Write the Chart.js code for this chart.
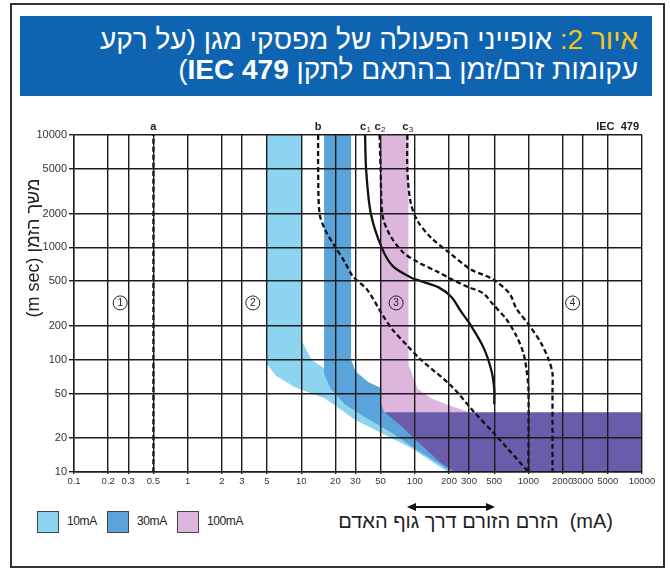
<!DOCTYPE html>
<html lang="he">
<head>
<meta charset="utf-8">
<title>IEC 479</title>
<script src="https://cdn.jsdelivr.net/npm/chart.js@4.4.1/dist/chart.umd.min.js"></script>
<style>
  html, body { margin: 0; padding: 0; background: #fff; }
  body { width: 670px; height: 572px; position: relative; overflow: hidden; font-family: "Liberation Sans", Arial, sans-serif; }
  #frame { position: absolute; left: 10px; top: 3px; width: 651px; height: 561px; border: 2px solid #333; }
  #titleBox { position: absolute; left: 20px; top: 16px; width: 632px; height: 80px; background: #0f64b2; color: #fff;
              direction: rtl; text-align: right; box-sizing: border-box; padding: 9px 14px 0 0; font-size: 28px; line-height: 30px; }
  #titleBox .fig { color: #f7c41f; }
  #titleBox b { font-weight: bold; }
  #chartWrap { position: absolute; left: 0; top: 110px; width: 670px; height: 380px; }
  #yTitle { position: absolute; left: 33px; top: 248px; transform: translate(-50%, -50%) rotate(-90deg); white-space: nowrap; font-size: 18px; color: #222; }
  .sw { position: absolute; top: 511px; width: 20px; height: 20px; border: 1px solid #444; }
  .lg { position: absolute; top: 514px; font-size: 12px; color: #222; letter-spacing: -0.4px; }
  #arrow { position: absolute; left: 405px; top: 499px; }
  #xTitle { position: absolute; right: 57px; top: 510px; font-size: 20px; color: #222; white-space: nowrap; }
</style>
</head>
<body>
<div id="frame"></div>
<div id="titleBox">
  <div><span class="fig">איור 2:</span> אופייני הפעולה של מפסקי מגן (על רקע</div>
  <div>עקומות זרם/זמן בהתאם לתקן <b>IEC 479</b>)</div>
</div>
<div id="chartWrap"><canvas id="myChart" width="670" height="380"></canvas></div>
<div id="yTitle">(m sec) משך הזמן</div>

<span class="sw" style="left:37px; background:#8cd4ef;"></span><span class="lg" style="left:67px;">10mA</span>
<span class="sw" style="left:107px; background:#5aa3db;"></span><span class="lg" style="left:137px;">30mA</span>
<span class="sw" style="left:177px; background:#dcb6dc;"></span><span class="lg" style="left:207px;">100mA</span>

<svg id="arrow" width="92" height="16">
  <line x1="9" y1="8" x2="83" y2="8" stroke="#111" stroke-width="2"/>
  <polygon points="2,8 11,4 11,12" fill="#111"/>
  <polygon points="90,8 81,4 81,12" fill="#111"/>
</svg>
<div id="xTitle">הזרם הזורם דרך גוף האדם&nbsp;&nbsp;(mA)</div>

<script>
// ticks (mA on x, ms on y)
const xTicks = [0.1, 0.2, 0.3, 0.5, 1, 2, 3, 5, 10, 20, 30, 50, 100, 200, 300, 500, 1000, 2000, 3000, 5000, 10000];
const yTicks = [10, 20, 50, 100, 200, 500, 1000, 2000, 5000, 10000];

// curves [mA, ms]
const curveA = [[0.5, 10], [0.5, 10000]];
const curveB = [[14.1, 10000], [14.1, 4800], [14.5, 2000], [16.2, 1440], [20, 1000], [24.2, 740], [28.5, 550], [38, 420],
                [52, 250], [64, 184], [86, 133], [113, 100], [211, 58], [334, 34], [500, 22], [1000, 10]];
const curveC1 = [[36.5, 10000], [37.3, 4900], [41, 2000], [51, 1000], [64, 680], [92, 540], [113, 500], [162, 440],
                 [211, 360], [254, 270], [308, 205], [403, 128], [474, 79], [500, 55], [500, 40]];
const curveC2 = [[49, 10000], [50, 4900], [52, 1930], [60, 1300], [79, 900], [106, 740], [162, 600], [211, 520],
                 [289, 447], [400, 390], [485, 313], [640, 229], [783, 163], [903, 115], [960, 83], [1000, 55], [1000, 10]];
const curveC3 = [[86, 10000], [86, 4800], [92, 2500], [106, 1710], [140, 1210], [200, 900], [308, 640], [485, 520],
                 [680, 390], [783, 286], [1026, 200], [1290, 141], [1510, 100], [1630, 75], [1630, 55], [1630, 10]];

// shaded zones (outline points, mA / ms)
const band10 = [[5, 10000], [10, 10000], [10, 150], [12.3, 100], [16.2, 83], [27.5, 100], [30, 79], [39, 63], [52, 55],
                [80, 40], [150, 20], [200, 12], [230, 10], [195, 10], [92, 16.4], [30, 29], [16.2, 45], [8.7, 57], [6, 72], [5, 91]];
const band30 = [[15.9, 10000], [27.5, 10000], [27.5, 100], [30, 79], [39, 63], [52, 55], [80, 40], [150, 20], [200, 12],
                [230, 10], [210, 10], [172, 11.5], [106, 15.5], [64, 22], [36, 31], [24.2, 40], [18.2, 55], [15.9, 75]];
const band100 = [[50, 10000], [88, 10000], [88, 90], [106, 55], [140, 45], [211, 38.5], [289, 34.5], [320, 30],
                 [64, 30], [54, 34], [50, 42]];
const zone4 = [[54, 34], [10000, 34], [10000, 10], [225, 10], [172, 11.9], [98, 20], [75, 26]];

// labels over the plot
const curveNames = ['a', 'b', 'c', 'c', 'c'];
const curveSubs = ['', '', '1', '2', '3'];
const curveTops = [0.5, 14.1, 36.5, 49, 86];
const zoneNames = ['1', '2', '3', '4'];
const zoneX = [0.255, 3.75, 68.5, 2449];
const zoneY = 320;

const toXY = pts => pts.map(p => ({ x: p[0], y: p[1] }));

function band(label, pts, color) {
  return { label: label, data: toXY(pts), backgroundColor: color, borderColor: 'rgba(0,0,0,0)', borderWidth: 0,
           pointRadius: 0, fill: 'shape', tension: 0 };
}
function curve(label, pts, dashed) {
  return { label: label, data: toXY(pts), borderColor: '#111', borderWidth: 2.3, borderDash: dashed ? [5, 3] : [],
           pointRadius: 0, fill: false, tension: 0.3 };
}

const markLabels = {
  id: 'markLabels',
  afterDraw(chart) {
    const { ctx, chartArea, scales } = chart;
    ctx.save();
    ctx.fillStyle = '#222';
    ctx.strokeStyle = '#222';
    ctx.textBaseline = 'alphabetic';
    const base = chartArea.top - 5;
    curveNames.forEach((n, i) => {
      const px = scales.x.getPixelForValue(curveTops[i]);
      ctx.font = 'bold 11px "Liberation Sans", Arial';
      if (curveSubs[i]) {
        ctx.textAlign = 'right';
        ctx.fillText(n, px + 1, base);
        ctx.font = '8px "Liberation Sans", Arial';
        ctx.textAlign = 'left';
        ctx.fillText(curveSubs[i], px + 1.5, base + 2);
      } else {
        ctx.textAlign = 'center';
        ctx.fillText(n, px, base);
      }
    });
    ctx.font = 'bold 11px "Liberation Sans", Arial';
    ctx.textAlign = 'right';
    ctx.fillText('IEC  479', chartArea.right - 3, base);

    ctx.lineWidth = 1;
    ctx.textAlign = 'center';
    ctx.textBaseline = 'middle';
    ctx.font = '10px "Liberation Sans", Arial';
    zoneNames.forEach((n, i) => {
      const px = scales.x.getPixelForValue(zoneX[i]);
      const py = scales.y.getPixelForValue(zoneY);
      ctx.beginPath();
      ctx.arc(px, py, 7, 0, Math.PI * 2);
      ctx.stroke();
      ctx.fillText(n, px, py + 0.5);
    });
    ctx.restore();
  }
};

const gridColor = '#1c1c1c';

const config = {
  type: 'line',
  data: {
    datasets: [
      curve('c1', curveC1, false),
      curve('c2', curveC2, true),
      curve('c3', curveC3, true),
      curve('b', curveB, true),
      curve('a', curveA, true),
      band('zone4', zone4, '#6a5cab'),
      band('100mA', band100, '#dcb6dc'),
      band('30mA', band30, '#5aa3db'),
      band('10mA', band10, '#8cd4ef')
    ]
  },
  options: {
    responsive: false,
    animation: false,
    events: [],
    layout: { padding: { top: 25, right: 28, left: 0, bottom: 0 } },
    plugins: { legend: { display: false }, tooltip: { enabled: false } },
    scales: {
      x: {
        type: 'logarithmic', min: 0.1, max: 10000,
        afterBuildTicks: s => { s.ticks = xTicks.map(v => ({ value: v })); },
        afterFit: s => { s.height = 18; s.paddingLeft = 0; s.paddingRight = 0; },
        grid: { color: gridColor, lineWidth: 1.4, z: 1, tickLength: 2 },
        border: { color: gridColor, width: 1.4, z: 1 },
        ticks: { autoSkip: false, maxRotation: 0, minRotation: 0, padding: 2, color: '#333',
                 font: { size: 9.5, family: '"Liberation Sans", Arial' }, callback: v => String(v) }
      },
      y: {
        type: 'logarithmic', min: 10, max: 10000,
        afterBuildTicks: s => { s.ticks = yTicks.map(v => ({ value: v })); },
        afterFit: s => { s.width = 74; s.paddingTop = 0; s.paddingBottom = 0; },
        grid: { color: gridColor, lineWidth: 1.4, z: 1, tickLength: 5 },
        border: { color: gridColor, width: 1.4, z: 1 },
        ticks: { padding: 2, color: '#333', font: { size: 11, family: '"Liberation Sans", Arial' }, callback: v => String(v) }
      }
    }
  },
  plugins: [markLabels]
};

let myChart = new Chart(document.getElementById('myChart'), config);
</script>
</body>
</html>
